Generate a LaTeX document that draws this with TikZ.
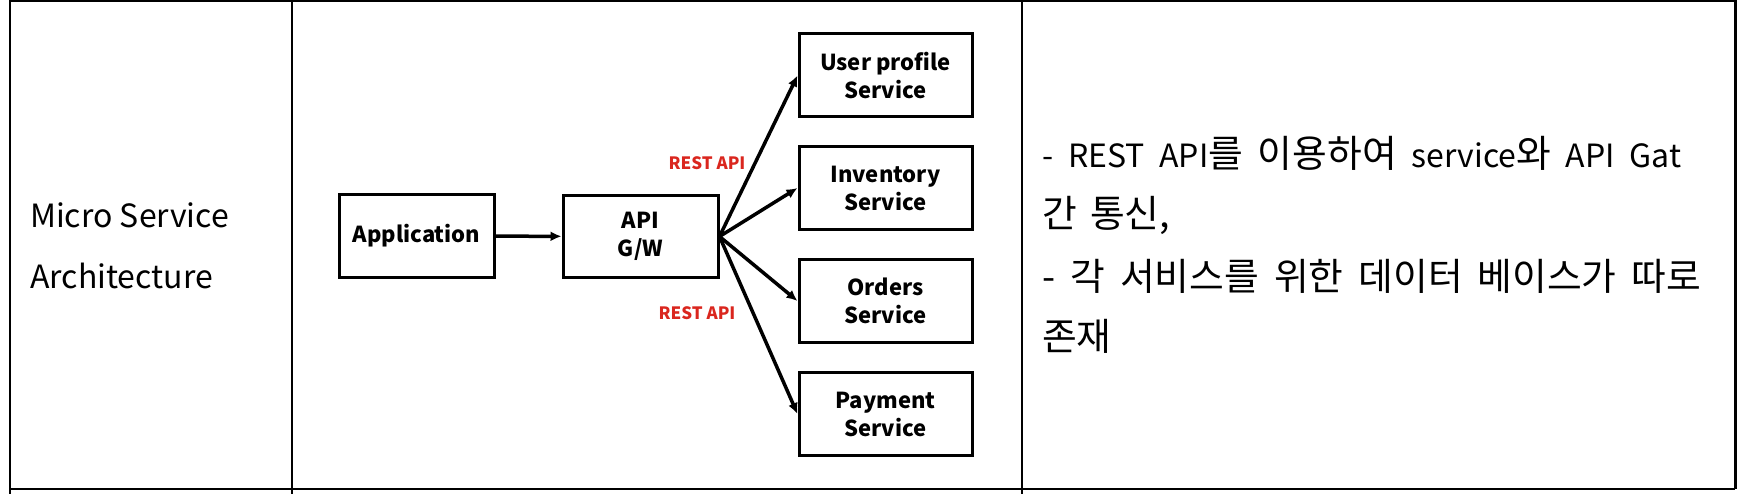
\documentclass[tikz,border=0pt]{standalone}
\usepackage{fontspec}
\setmainfont{Noto Sans CJK KR}
\newfontfamily\kr[Scale=1.18]{Noto Sans CJK KR}
\usetikzlibrary{arrows.meta}
\begin{document}
\begin{tikzpicture}[x=1pt,y=-1pt,
  box/.style={draw,line width=3pt,minimum width=155pt,minimum height=82pt,inner sep=0pt,align=center,font=\fontsize{22}{28}\selectfont\bfseries},
  svc/.style={box,minimum width=173pt,minimum height=83pt},
  rest/.style={text={rgb,255:red,218;green,38;blue,30},font=\fontsize{17}{20}\selectfont\bfseries,inner sep=0pt},
  cell/.style={anchor=base west,inner sep=0pt,font=\fontsize{32}{38}\selectfont},
  conn/.style={-{Latex[length=11pt,width=10pt]},line width=3.5pt}]
\useasboundingbox (0,0) rectangle (1744,494);
% table
\draw[line width=2.5pt](10,1)--(1735,1);
\draw[line width=2.5pt](10,489)--(1735,489);
\draw[line width=2pt](10,0)--(10,494);
\draw[line width=2pt](292,0)--(292,494);
\draw[line width=2pt](1022,0)--(1022,494);
\draw[line width=3pt](1735,0)--(1735,489);
\node[cell](t1) at (30,228){Micro Service};
\node[cell](t2) at (30,288){Architecture};
% diagram
\node[box](app) at (416.5,236){Application};
\node[box](gw) at (640.5,236.5){API\\G/W};
\node[svc](user) at (885.5,75.5){User profile\\Service};
\node[svc](inv) at (885.5,188){Inventory\\Service};
\node[svc](ord) at (885.5,301){Orders\\Service};
\node[svc](pay) at (885.5,414){Payment\\Service};
\draw[conn](app)--(gw);
\foreach \s in {user,inv,ord,pay}
  \draw[conn](gw.east)--(\s.west);
\node[rest](r1) at (707,163){REST API};
\node[rest](r2) at (697,313){REST API};
% notes
\node[cell](n1) at (1042,168){\makebox[639pt][s]{- REST API{\kr 를} {\kr 이용하여} service{\kr 와} API Gat}};
\node[cell](n2) at (1042,228){\makebox[128pt][s]{\kr 간 통신,}};
\node[cell](n3) at (1042,290){\makebox[659pt][s]{\kr - 각 서비스를 위한 데이터 베이스가 따로}};
\node[cell](n4) at (1042,350){\kr 존재};
\end{tikzpicture}
\end{document}
